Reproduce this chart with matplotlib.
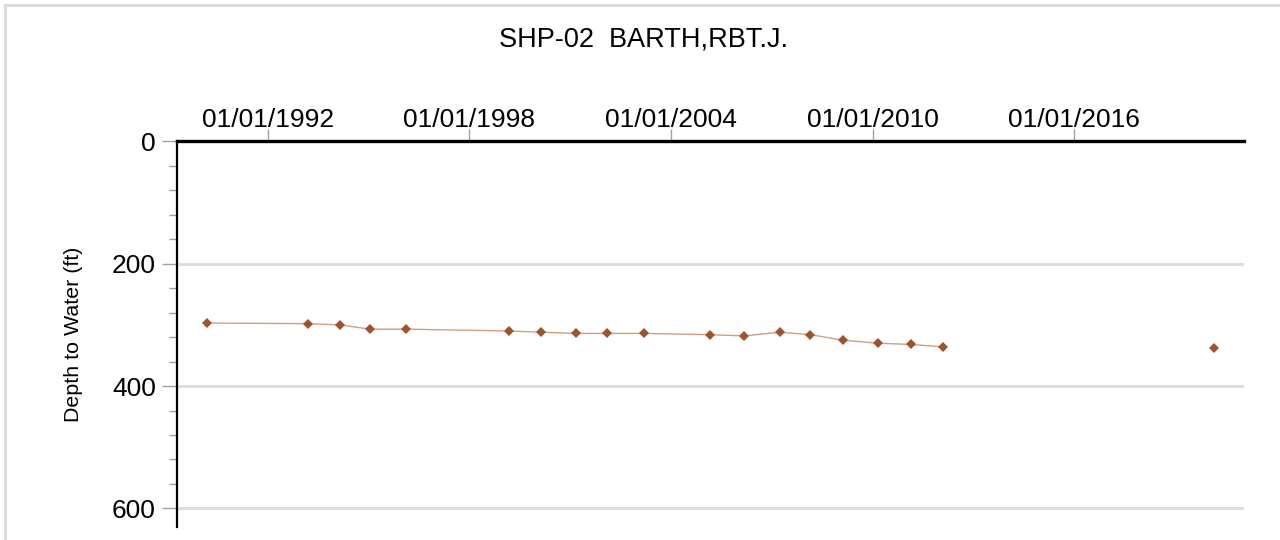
import numpy as np
import pandas as pd
import matplotlib
matplotlib.use('Agg')
import matplotlib.pyplot as plt
import matplotlib.dates as mdates
from matplotlib.lines import Line2D
from matplotlib.ticker import MultipleLocator

plt.rcParams['font.family'] = ['Liberation Sans', 'DejaVu Sans']

title = 'SHP-02  BARTH,RBT.J.'
y_label = 'Depth to Water (ft)'

dates = ['1990-03-07', '1993-03-10', '1994-02-24', '1995-01-16', '1996-02-10',
         '1999-03-07', '2000-02-20', '2001-03-03', '2002-02-06', '2003-03-10',
         '2005-03-01', '2006-03-07', '2007-03-28', '2008-02-24', '2009-02-10',
         '2010-03-01', '2011-02-20', '2012-02-06', '2020-03-03']
depth = [297, 298, 300, 307, 307,
         310, 312, 314, 314, 314,
         316, 318, 312, 316, 325,
         330, 332, 336, 338]
n_connected = 18  # last reading stands alone, no line to it

tick_years = [1992, 1998, 2004, 2010, 2016]
x_start, x_end = '1989-04-15', '2021-01-22'
y_max = 630

dates = pd.to_datetime(dates)

# ---------------- figure ----------------
fig = plt.figure(figsize=(12.8, 5.4), dpi=100)
ax = fig.add_axes([0.138, 0.0246, 0.834, 0.7136])

# frame lines of the original panel (top and left only are visible)
fig.add_artist(Line2D([5/1280, 1], [1 - 5/540, 1 - 5/540], transform=fig.transFigure,
                      color='#d9d9d9', lw=2))
fig.add_artist(Line2D([5/1280, 5/1280], [0, 1 - 5/540], transform=fig.transFigure,
                      color='#d9d9d9', lw=2))

ax.plot(dates[:n_connected], depth[:n_connected], color='#cf9f86', lw=1, zorder=2)
ax.plot(dates, depth, ls='none', marker='D', markersize=4.6,
        color='#a0522d', markeredgewidth=0, zorder=3)

ax.set_xlim(pd.Timestamp(x_start), pd.Timestamp(x_end))
ax.set_ylim(y_max, 0)

ax.xaxis.tick_top()
ax.set_xticks([pd.Timestamp(f'{y}-01-01') for y in tick_years])
ax.xaxis.set_major_formatter(mdates.DateFormatter('%m/%d/%Y'))
ax.tick_params(axis='x', which='major', direction='out', length=9, width=1,
               color='#a0a0a0', labelsize=19, pad=-2)

ax.yaxis.set_major_locator(MultipleLocator(200))
ax.yaxis.set_minor_locator(MultipleLocator(40))
ax.tick_params(axis='y', which='major', direction='out', length=11, width=1,
               color='#a0a0a0', labelsize=19, pad=4)
ax.tick_params(axis='y', which='minor', direction='out', length=6, width=1,
               color='#a0a0a0')
ax.grid(axis='y', which='major', color='#dedede', lw=2.2, zorder=0)
ax.set_axisbelow(True)

for s in ['right', 'bottom']:
    ax.spines[s].set_visible(False)
ax.spines['left'].set_linewidth(1.6)
ax.spines['top'].set_linewidth(2.4)

ax.set_ylabel(y_label, fontsize=15.4)
ax.yaxis.set_label_coords(-94/1068, 0.5)

fig.text(0.503, 1 - 40/540, title, ha='center', va='center', fontsize=19.5)

fig.savefig('out.png', dpi=100)
